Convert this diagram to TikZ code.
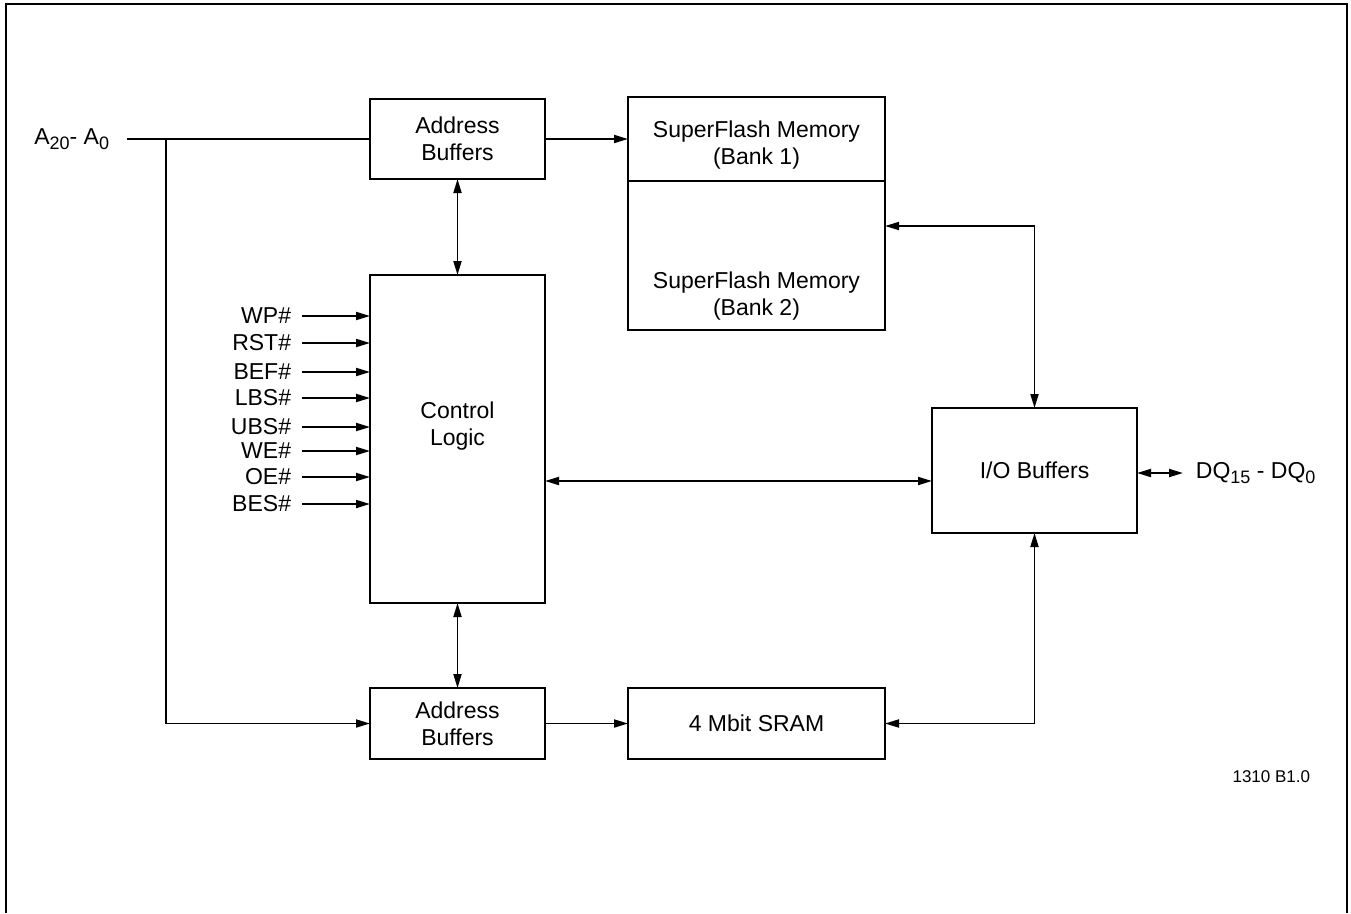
\documentclass[tikz,border=0pt]{standalone}
\usepackage{fontspec}
\setmainfont{Liberation Sans}
\usetikzlibrary{arrows.meta}

\newcommand{\subind}[1]{\raisebox{-0.22em}{\fontsize{18}{19}\selectfont #1}}

\begin{document}
\begin{tikzpicture}[
    x=1pt, y=-1pt,
    font=\fontsize{23}{27}\selectfont, >={Triangle[length=14pt,width=8pt]},
    line width=1.9pt,
    bloque/.style={draw, line width=1.9pt, align=center, inner sep=0pt, outer sep=0pt},
    marco/.style={line width=2.4pt}
  ]

    % --- MARCO ---
    \useasboundingbox (0,0) rectangle (1351,913);
    \draw[marco] (6,913) -- (6,4) -- (1347,4) -- (1347,913);

    % --- BLOQUES ---
    \node[bloque, minimum width=175pt, minimum height=80pt] (abtop) at (457.5,139) {Address\\Buffers};
    \node[bloque, minimum width=257pt, minimum height=84pt,
          label={[align=center, yshift=-6pt]center:SuperFlash Memory\\(Bank 1)}] (bank1) at (756.5,139) {};
    \node[bloque, minimum width=257pt, minimum height=149pt, anchor=north] (bank2) at (bank1.south) {};
    \node[align=center] (bank2txt) at (756.5,296) {SuperFlash Memory\\(Bank 2)};
    \node[bloque, minimum width=175pt, minimum height=328pt,
          label={[align=center, yshift=13pt]center:Control\\Logic}] (ctrl) at (457.5,439) {};
    \node[bloque, minimum width=205pt, minimum height=125pt] (iobuf) at (1034.5,470.5) {I/O Buffers};
    \node[bloque, minimum width=175pt, minimum height=71pt] (abbot) at (457.5,723.5) {Address\\Buffers};
    \node[bloque, minimum width=257pt, minimum height=71pt] (sram) at (756.5,723.5) {4 Mbit SRAM};

    % --- ETIQUETAS ---
    \node[anchor=east, inner sep=0pt] (addr) at (110,139) {A\subind{20}- A\subind{0}};
    \node[anchor=west, inner sep=0pt] (dq) at (1195,473) {DQ\subind{15} - DQ\subind{0}};
    \node[anchor=east, inner sep=0pt, font=\fontsize{17}{20}\selectfont] (ref) at (1311,777) {1310 B1.0};

    % --- BUS DE DIRECCIONES ---
    \coordinate (abr) at (166,139);
    \draw ([xshift=17pt]addr.east) -- (abtop.west);
    \draw[->] (abr) |- (abbot.west);
    \draw[->] (abtop.east) -- (bank1.west);
    \draw[->] (abbot.east) -- (sram.west);

    % --- SEÑALES DE CONTROL ---
    \foreach \sig/\yy [count=\i] in {WP\#/316, RST\#/343, BEF\#/372, LBS\#/398, UBS\#/427, WE\#/451, OE\#/477, BES\#/504} {
        \node[anchor=east, inner sep=0pt] (sig\i) at (292,\yy) {\sig};
        \draw[->] ([xshift=10pt]sig\i.east) -- (ctrl.west |- sig\i.east);
    }

    % --- CONEXIONES BIDIRECCIONALES ---
    \coordinate (cio) at (0,481);
    \coordinate (fio) at (0,226);
    \draw[<->] (abtop.south) -- (ctrl.north);
    \draw[<->] (ctrl.south) -- (abbot.north);
    \draw[<->] (ctrl.east |- cio) -- (iobuf.west |- cio);
    \draw[<->] (iobuf.north) |- (bank2.east |- fio);
    \draw[<->] (iobuf.south) |- (sram.east);
    \draw[<->] (iobuf.east |- dq.west) -- ([xshift=-12pt]dq.west);

  \end{tikzpicture}
\end{document}
